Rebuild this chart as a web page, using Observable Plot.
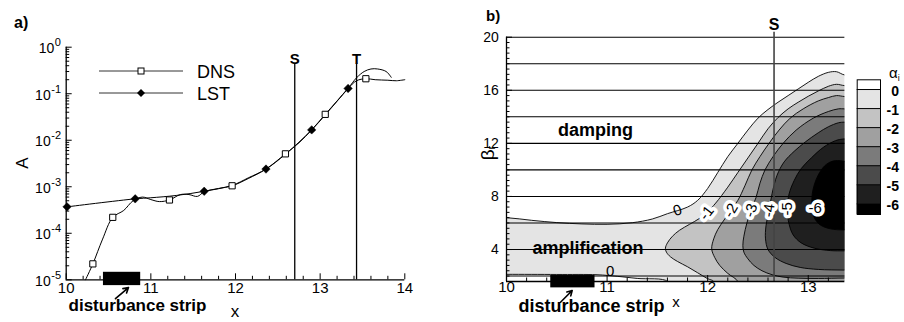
<!DOCTYPE html>
<html><head><meta charset="utf-8">
<script src="https://cdn.jsdelivr.net/npm/d3@7"></script>
<script src="https://cdn.jsdelivr.net/npm/@observablehq/plot@0.6"></script>
<style>
html,body{margin:0;padding:0;background:#fff;}
#wrap{position:relative;width:904px;height:322px;overflow:hidden;background:#fff;}
.abs{position:absolute;top:0;}
svg text{font-family:"Liberation Sans",Arial,Helvetica,sans-serif;}
</style></head><body>
<div id="wrap">
<div id="pa" class="abs" style="left:0;width:450px;height:322px"></div>
<div id="pb" class="abs" style="left:450px;width:400px;height:322px"></div>
<div id="cb" class="abs" style="left:846px;width:58px;height:322px"></div>
<svg class="abs" style="left:0;pointer-events:none" width="904" height="322">
  <text x="14" y="28" font-size="16" font-weight="bold">a)</text>
  <text x="486" y="21" font-size="15" font-weight="bold">b)</text>
  <text transform="translate(22,163) rotate(-90)" text-anchor="middle" dominant-baseline="central" font-size="17">A</text>
  <text transform="translate(487,153) rotate(-90)" text-anchor="middle" dominant-baseline="central" font-size="19">β<tspan font-size="11" dy="4">r</tspan></text>
  <text x="137.5" y="311" text-anchor="middle" font-size="17" font-weight="bold">disturbance strip</text>
  <text x="235" y="317" text-anchor="middle" font-size="17">x</text>
  <text x="591.5" y="312" text-anchor="middle" font-size="18" font-weight="bold">disturbance strip</text>
  <text x="676" y="307" text-anchor="middle" font-size="15">x</text>
  <text x="889" y="78" font-size="15">α<tspan font-size="9" dy="3">i</tspan></text>
  <!-- legend -->
  <line x1="99" y1="71" x2="183" y2="71" stroke="#333" stroke-width="1"/>
  <rect x="138" y="68" width="6" height="6" fill="#fff" stroke="#000" stroke-width="1"/>
  <text x="197" y="77.5" font-size="18">DNS</text>
  <line x1="99" y1="93" x2="183" y2="93" stroke="#333" stroke-width="1"/>
  <polygon points="141,89 145,93 141,97 137,93" fill="#000"/>
  <text x="197" y="99.5" font-size="18">LST</text>
</svg>
</div>
<script>
// ---------- panel a data ----------
const dnsMarkX = [10.315, 10.55, 11.22, 11.96, 12.59, 13.06, 13.54];
const dnsMarkA = [2.2e-5, 2.2e-4, 5.2e-4, 1.05e-3, 5.1e-3, 3.6e-2, 0.21];
const lstMarkX = [10.01, 10.815, 11.63, 12.36, 12.90, 13.33];
const lstMarkA = [3.7e-4, 5.5e-4, 8.0e-4, 2.4e-3, 1.67e-2, 0.13];
const dnsCurveX = [10.228, 10.315, 10.43, 10.55, 10.68, 10.79, 10.9, 11.0, 11.1, 11.22, 11.35, 11.45, 11.55, 11.63, 11.8, 11.96, 12.15, 12.36, 12.59, 12.75, 12.9, 13.06, 13.2, 13.33, 13.43, 13.54, 13.65, 13.8, 13.9, 14.0];
const dnsCurveA = [1e-5, 2.2e-5, 7.5e-5, 2.2e-4, 3.1e-4, 5.0e-4, 6.0e-4, 5.3e-4, 4.8e-4, 5.2e-4, 6.8e-4, 6.8e-4, 6.2e-4, 7.8e-4, 9.2e-4, 1.05e-3, 1.5e-3, 2.4e-3, 5.1e-3, 8.8e-3, 1.67e-2, 3.6e-2, 7.0e-2, 0.13, 0.19, 0.21, 0.2, 0.195, 0.19, 0.2];
const lstCurveX = [10.01, 10.815, 11.0, 11.3, 11.63, 11.96, 12.15, 12.36, 12.59, 12.9, 13.06, 13.2, 13.33, 13.43, 13.52, 13.6, 13.68, 13.78, 13.84];
const lstCurveA = [3.7e-4, 5.5e-4, 5.8e-4, 6.5e-4, 8.0e-4, 1.07e-3, 1.55e-3, 2.4e-3, 5.0e-3, 1.67e-2, 3.5e-2, 6.9e-2, 0.13, 0.22, 0.3, 0.34, 0.34, 0.3, 0.225];
const stationLabels = ["S", "T"];
const stationXa = [12.70, 13.43];
const stationXb = [12.66];
const stripX = [10.44, 10.88];
const xTicksA = [10, 11, 12, 13, 14];
const decadesA = [1e-5, 1e-4, 1e-3, 1e-2, 1e-1, 1];

// ---------- panel b data ----------
const xTicksB = [10, 11, 12, 13];
const yTicksB = [4, 8, 12, 16, 20];
const betaGrid = [2, 4, 6, 8, 10, 12, 14, 16, 18, 20];
const alphaLevels = [0, -1, -2, -3, -4, -5, -6];
const bandColors = ["#ffffff", "#e4e4e4", "#c3c3c3", "#a0a0a0", "#7b7b7b", "#4b4b4b", "#1f1f1f", "#000000"];
const contour0Lower = [[10,2.13],[10.5,2.12],[10.9,2.1],[11.1,1.98],[11.3,1.82],[11.6,1.59]];
const contour0Upper = [[10,6.4],[10.25,6.2],[10.5,6.03],[10.75,5.93],[11.0,5.9],[11.25,6.02],[11.45,6.3],[11.6,6.7],[11.8,7.2],[11.9,7.7],[12.0,8.6],[12.1,9.8],[12.2,11.0],[12.3,12.0],[12.4,13.0],[12.5,13.9],[12.6,14.55],[12.7,15.1],[12.8,15.6],[12.9,16.1],[13.0,16.6],[13.1,17.05],[13.2,17.35],[13.28,17.4],[13.364,17.15]];
const contourM1 = [[12.06,1.59],[12.0,1.8],[11.9,2.25],[11.8,2.7],[11.7,3.1],[11.63,3.45],[11.59,3.8],[11.58,4.1],[11.6,4.5],[11.65,5.0],[11.72,5.45],[11.82,5.9],[11.92,6.35],[12.0,6.85],[12.08,7.5],[12.2,8.7],[12.3,9.8],[12.4,10.9],[12.5,12.0],[12.6,13.1],[12.7,13.95],[12.8,14.6],[12.9,15.1],[13.0,15.55],[13.1,15.95],[13.2,16.3],[13.28,16.45],[13.364,16.35]];
const contourM2 = [[12.3,1.59],[12.2,2.2],[12.12,2.8],[12.07,3.4],[12.04,4.05],[12.06,4.8],[12.1,5.5],[12.17,6.3],[12.23,6.95],[12.3,7.7],[12.37,8.8],[12.44,10.0],[12.52,11.0],[12.61,12.0],[12.71,13.0],[12.82,13.9],[12.95,14.6],[13.1,15.2],[13.2,15.45],[13.28,15.6],[13.364,15.53]];
const contourM3 = [[13.364,1.85],[13.1,1.82],[12.9,1.84],[12.75,1.92],[12.64,2.1],[12.54,2.4],[12.46,2.8],[12.4,3.3],[12.36,3.8],[12.35,4.3],[12.36,5.0],[12.39,6.0],[12.43,6.95],[12.48,7.9],[12.52,9.0],[12.57,10.0],[12.65,11.0],[12.75,12.0],[12.88,13.0],[13.05,13.9],[13.2,14.4],[13.3,14.6],[13.364,14.6]];
const contourM4 = [[13.364,2.45],[13.1,2.5],[12.92,2.65],[12.78,2.95],[12.67,3.4],[12.6,4.0],[12.575,4.8],[12.58,5.8],[12.61,6.95],[12.64,8.2],[12.69,9.6],[12.76,10.6],[12.86,11.4],[12.97,12.1],[13.1,12.8],[13.2,13.25],[13.3,13.55],[13.364,13.6]];
const contourM5 = [[13.364,3.9],[13.22,3.92],[13.06,4.1],[12.93,4.5],[12.85,5.1],[12.81,5.9],[12.79,7.07],[12.81,8.2],[12.86,9.2],[12.93,10.1],[13.03,10.9],[13.15,11.7],[13.27,12.2],[13.364,12.34]];
const contourM6 = [[13.364,5.47],[13.22,5.56],[13.12,5.85],[13.06,6.4],[13.04,7.1],[13.04,8.2],[13.08,9.3],[13.15,10.2],[13.22,10.6],[13.29,10.7],[13.364,10.65]];
const contourLabelText = ["0", "-1", "-2", "-3", "-4", "-5", "-6", "0"];
const contourLabelX = [11.70, 11.99, 12.23, 12.43, 12.61, 12.79, 13.07, 11.03];
const contourLabelB = [6.94, 6.75, 6.94, 6.94, 6.94, 7.07, 7.1, 2.4];
const contourLabelAngle = [-18, -52, -60, -72, -82, -90, 0, 0];

const FONT = '"Liberation Sans", Arial, Helvetica, sans-serif';

// ---------- panel a ----------
const dnsCurve = dnsCurveX.map((x, i) => ({x, a: dnsCurveA[i]}));
const lstCurve = lstCurveX.map((x, i) => ({x, a: lstCurveA[i]}));
const dnsMarks = dnsMarkX.map((x, i) => ({x, a: dnsMarkA[i]}));
const lstMarks = lstMarkX.map((x, i) => ({x, a: lstMarkA[i]}));
const stationsA = stationLabels.map((s, i) => ({s, x: stationXa[i]}));
const xMinorA = d3.range(10, 14.001, 0.2).filter(v => Math.abs(v - Math.round(v)) > 1e-6);
const yMinorA = decadesA.slice(0, 5).flatMap(d => d3.range(2, 10).map(k => k * d));

const pa = Plot.plot({
  width: 450, height: 322,
  marginLeft: 65.7, marginRight: 45.7, marginTop: 46.7, marginBottom: 42.7,
  x: {domain: [10, 14], axis: null},
  y: {type: "log", domain: [1e-5, 1], axis: null},
  style: {fontFamily: FONT, background: "transparent", overflow: "visible"},
  marks: [
    Plot.ruleX(xMinorA, {x: d => d, y1: 1e-5, y2: 1e-5, insetTop: -3.5}),
    Plot.ruleX(xTicksA, {x: d => d, y1: 1e-5, y2: 1e-5, insetTop: -6}),
    Plot.ruleY(yMinorA, {y: d => d, x1: 10, x2: 10, insetRight: -3.5}),
    Plot.ruleY(decadesA, {y: d => d, x1: 10, x2: 10, insetRight: -6}),
    Plot.ruleX([10], {strokeWidth: 1.3}),
    Plot.ruleY([1e-5], {strokeWidth: 1.3}),
    Plot.ruleX(stationsA, {x: "x", y1: 1e-5, y2: 0.45, strokeWidth: 1.3}),
    Plot.text(stationsA, {x: "x", text: "s", frameAnchor: "top", dy: 6, fontWeight: "bold", fontSize: 15}),
    Plot.line(lstCurve, {x: "x", y: "a", curve: "catmull-rom", stroke: "#000", strokeWidth: 1}),
    Plot.line(dnsCurve, {x: "x", y: "a", curve: "catmull-rom", stroke: "#000", strokeWidth: 1}),
    Plot.dot(lstMarks, {x: "x", y: "a", symbol: "diamond2", r: 3.8, fill: "#000", stroke: "#000", strokeWidth: 0.5}),
    Plot.dot(dnsMarks, {x: "x", y: "a", symbol: "square", r: 3.5, fill: "#fff", stroke: "#000", strokeWidth: 1}),
    Plot.rect([stripX], {x1: d => d[0], x2: d => d[1], y1: 7.5e-6, y2: 1.45e-5, fill: "#000"}),
    Plot.arrow([stripX], {x1: 10.582, y1: 3.94e-6, x2: 10.736, y2: 6.8e-6, headLength: 7, strokeWidth: 1.6, stroke: "#000"}),
    Plot.text(xTicksA, {x: d => d, text: d => String(d), frameAnchor: "bottom", dy: 12.7, fontSize: 15}),
    Plot.text(decadesA, {y: d => d, text: () => "10", frameAnchor: "left", textAnchor: "end", dx: -11.8, dy: 1.6, fontSize: 14, filter: d => d === 1}),
    Plot.text(decadesA, {y: d => d, text: () => "10", frameAnchor: "left", textAnchor: "end", dx: -15.5, dy: 1.6, fontSize: 14, filter: d => d !== 1}),
    Plot.text(decadesA, {y: d => d, text: d => String(Math.round(Math.log10(d))), frameAnchor: "left", textAnchor: "end", dx: -5.2, dy: -4.5, fontSize: 11})
  ]
});
document.getElementById("pa").appendChild(pa);

// ---------- panel b ----------
const X0 = 10, X1 = 13.364, B0 = 1.59, EXT = 0.3, BELOW = 0.9;
function extend(path) {
  const f = path[0], l = path[path.length - 1];
  const pre = f[0] <= X0 ? [X0 - EXT, f[1]] : f[0] >= X1 ? [X1 + EXT, f[1]] : [f[0], BELOW];
  const post = l[0] >= X1 ? [X1 + EXT, l[1]] : l[0] <= X0 ? [X0 - EXT, l[1]] : [l[0], BELOW];
  return [pre, ...path, post];
}
const innerContours = [contourM1, contourM2, contourM3, contourM4, contourM5, contourM6];
const fillPolys = [
  [...extend(contour0Lower), [X1 + EXT, BELOW], ...extend(contour0Upper).reverse()],
  ...innerContours.map(c => [...extend(c), [X1 + EXT, BELOW]])
];
const allContours = [contour0Lower, contour0Upper, ...innerContours];
const labelsB = contourLabelText.map((t, i) => ({t, x: contourLabelX[i], b: contourLabelB[i], r: contourLabelAngle[i]}));
const xMinorB = d3.range(10, 13.37, 0.2).filter(v => Math.abs(v - Math.round(v)) > 1e-6);
const yMinorB = d3.range(2, 20.01, 0.4).filter(v => Math.abs(v / 4 - Math.round(v / 4)) > 1e-6);

const pb = Plot.plot({
  width: 400, height: 322,
  marginLeft: 56, marginRight: 5.64, marginTop: 36.7, marginBottom: 41,
  x: {domain: [X0, X1], axis: null},
  y: {domain: [B0, 20], axis: null},
  style: {fontFamily: FONT, background: "transparent", overflow: "visible"},
  marks: [
    ...fillPolys.map((poly, i) => Plot.line(poly, {x: d => d[0], y: d => d[1], curve: "catmull-rom", fill: bandColors[i + 1], stroke: "none", clip: true})),
    Plot.ruleY(betaGrid, {strokeWidth: 1.1}),
    ...allContours.map(c => Plot.line(extend(c), {x: d => d[0], y: d => d[1], curve: "catmull-rom", stroke: "#000", strokeWidth: 0.9, clip: true})),
    Plot.ruleX(stationXb, {x: d => d, y1: B0, y2: 20.37, stroke: "#444", strokeWidth: 1.6}),
    Plot.text(stationXb, {x: d => d, text: () => "S", frameAnchor: "top", dy: -19, fontWeight: "bold", fontSize: 16}),
    Plot.text(labelsB.filter(d => d.t !== "0"), {x: "x", y: "b", text: "t", rotate: "r", fontSize: 15, fill: "#000", stroke: "#fff", strokeWidth: 7, strokeLinejoin: "round", paintOrder: "stroke"}),
    Plot.text(labelsB.filter(d => d.t === "0"), {x: "x", y: "b", text: "t", rotate: "r", fontSize: 15, fill: "#000"}),
    Plot.text(["damping"], {x: 10.885, y: 12.97, text: d => d, fontWeight: "bold", fontSize: 18}),
    Plot.text(["amplification"], {x: 10.81, y: 4.11, text: d => d, fontWeight: "bold", fontSize: 18}),
    Plot.ruleX(xMinorB, {x: d => d, y1: B0, y2: B0, insetTop: -3.5}),
    Plot.ruleX(xTicksB, {x: d => d, y1: B0, y2: B0, insetTop: -6}),
    Plot.ruleY(yMinorB, {y: d => d, x1: X0, x2: X0, insetRight: -3.5}),
    Plot.ruleY(yTicksB, {y: d => d, x1: X0, x2: X0, insetRight: -6}),
    Plot.ruleX([X0], {strokeWidth: 1.3}),
    Plot.ruleY([B0], {strokeWidth: 1.3}),
    Plot.rect([stripX], {x1: d => d[0], x2: d => d[1], y1: 1.11, y2: 2.04, fill: "#000"}),
    Plot.arrow([stripX], {x1: 10.537, y1: 0.03, x2: 10.653, y2: 0.91, headLength: 7, strokeWidth: 1.6, stroke: "#000"}),
    Plot.text(xTicksB, {x: d => d, text: d => String(d), frameAnchor: "bottom", dy: 10, fontSize: 15}),
    Plot.text(yTicksB, {y: d => d, text: d => String(d), frameAnchor: "left", textAnchor: "end", dx: -7.7, fontSize: 14})
  ]
});
document.getElementById("pb").appendChild(pb);

// ---------- colour bar ----------
const cbTop = 0.51, cbBottom = -6.56;
const cbBands = bandColors.map((c, i) => ({
  c,
  hi: i === 0 ? cbTop : alphaLevels[i - 1],
  lo: i === alphaLevels.length ? cbBottom : alphaLevels[i]
}));
const cb = Plot.plot({
  width: 58, height: 322,
  marginLeft: 10.7, marginRight: 24, marginTop: 79.3, marginBottom: 108,
  x: {domain: [0, 1], axis: null},
  y: {domain: [cbBottom, cbTop], axis: null},
  color: {type: "identity"},
  style: {fontFamily: FONT, background: "transparent", overflow: "visible"},
  marks: [
    Plot.rect(cbBands, {x1: 0, x2: 1, y1: "lo", y2: "hi", fill: "c"}),
    Plot.ruleY(alphaLevels, {strokeWidth: 1}),
    Plot.frame({strokeWidth: 1}),
    Plot.text(alphaLevels, {y: d => d, text: d => String(d), frameAnchor: "right", textAnchor: "end", dx: 18.5, dy: 2, fontWeight: "bold", fontSize: 14})
  ]
});
document.getElementById("cb").appendChild(cb);
</script>
</body></html>
